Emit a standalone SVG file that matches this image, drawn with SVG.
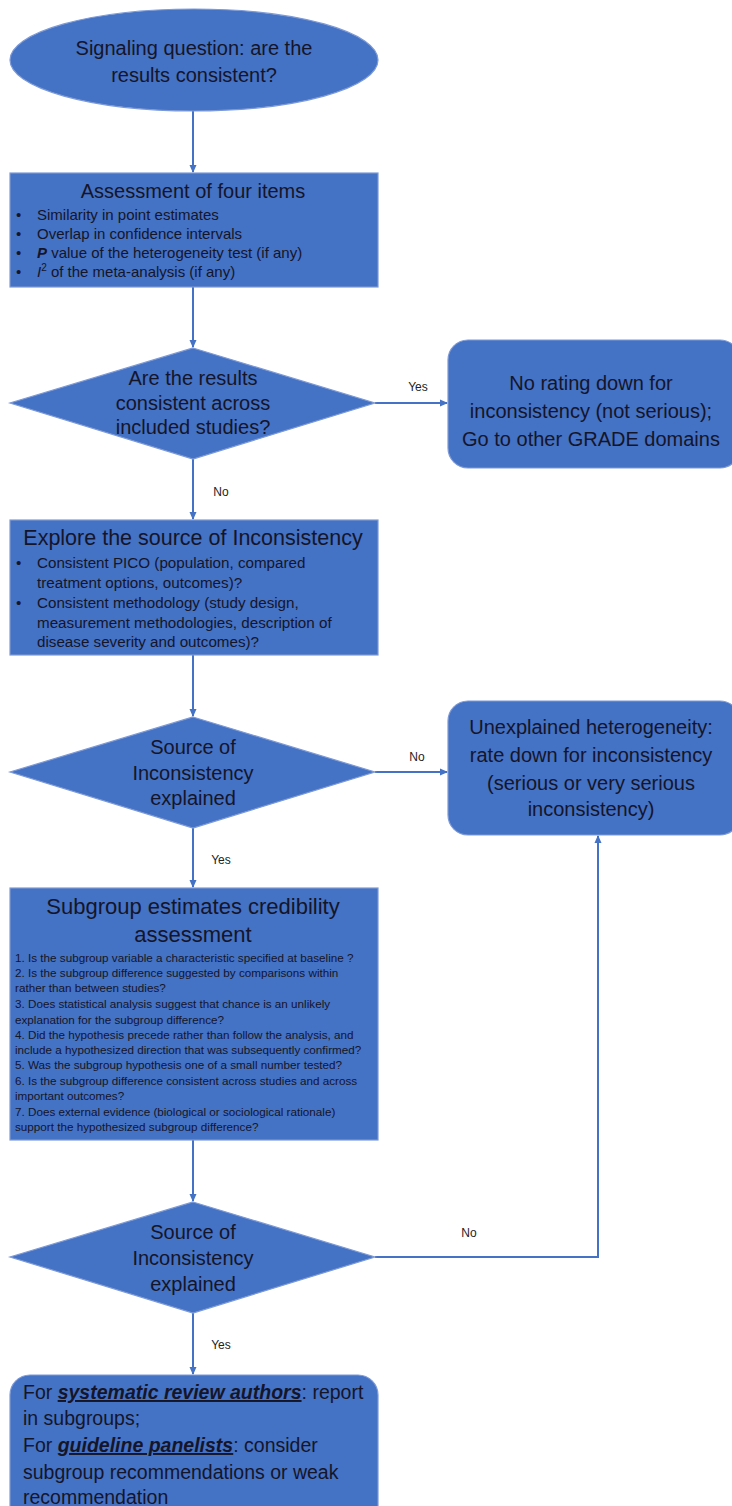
<svg xmlns="http://www.w3.org/2000/svg" width="732" height="1506" viewBox="0 0 732 1506">
<style>
.shape{fill:#4472C4;stroke:#7d9ad6;stroke-width:1.2}
.t{font-family:"Liberation Sans",Arial,sans-serif;fill:#15152a}
.c{text-anchor:middle}
.big{font-size:20px}
.fin{font-size:19.5px}
.b1{font-size:15px}
.b2{font-size:15.2px}
.sm{font-size:11.7px}
.lbl{font-family:"Liberation Sans",Arial,sans-serif;font-size:12px;fill:#222;text-anchor:middle}
.con{stroke:#4472C4;stroke-width:2;fill:none}
.bi{font-weight:bold;font-style:italic;text-decoration:underline}
</style>
<defs>
<marker id="arr" markerWidth="8" markerHeight="8" refX="7" refY="4" orient="auto" markerUnits="userSpaceOnUse">
<path d="M0,0.5 L8,4 L0,7.5 z" fill="#4472C4"/>
</marker>
</defs>
<rect width="732" height="1506" fill="#ffffff"/>

<g id="connectors">
<line class="con" x1="193" y1="111" x2="193" y2="172" marker-end="url(#arr)"/>
<line class="con" x1="193" y1="287" x2="193" y2="347" marker-end="url(#arr)"/>
<line class="con" x1="375" y1="403" x2="447" y2="403" marker-end="url(#arr)"/>
<line class="con" x1="193" y1="459" x2="193" y2="519" marker-end="url(#arr)"/>
<line class="con" x1="193" y1="655" x2="193" y2="716" marker-end="url(#arr)"/>
<line class="con" x1="375" y1="772" x2="447" y2="772" marker-end="url(#arr)"/>
<line class="con" x1="193" y1="828" x2="193" y2="887" marker-end="url(#arr)"/>
<line class="con" x1="193" y1="1140" x2="193" y2="1201" marker-end="url(#arr)"/>
<polyline class="con" points="375,1257 598,1257 598,836" marker-end="url(#arr)"/>
<line class="con" x1="193" y1="1313" x2="193" y2="1374" marker-end="url(#arr)"/>
<text class="lbl" x="418" y="391">Yes</text>
<text class="lbl" x="221" y="496">No</text>
<text class="lbl" x="417" y="761">No</text>
<text class="lbl" x="221" y="864">Yes</text>
<text class="lbl" x="469" y="1237">No</text>
<text class="lbl" x="221" y="1349">Yes</text>
</g>

<g id="start">
<ellipse class="shape" cx="194" cy="60" rx="184" ry="51"/>
<text class="t c big" x="194" y="55">Signaling question: are the</text>
<text class="t c big" x="194" y="82">results consistent?</text>
</g>

<g id="assessment">
<rect class="shape" x="10" y="173" width="368" height="114"/>
<text class="t c" font-size="20" x="193" y="198">Assessment of four items</text>
<g class="t b1">
<text x="16" y="220">•</text><text x="37" y="220">Similarity in point estimates</text>
<text x="16" y="239">•</text><text x="37" y="239">Overlap in confidence intervals</text>
<text x="16" y="258">•</text><text x="37" y="258"><tspan font-weight="bold" font-style="italic">P</tspan> value of the heterogeneity test (if any)</text>
<text x="16" y="277">•</text><text x="37" y="277"><tspan font-style="italic">I</tspan><tspan font-size="10" dy="-6">2</tspan><tspan dy="6"> of the meta-analysis (if any)</tspan></text>
</g>
</g>

<g id="decision1">
<polygon class="shape" points="193,348 375,403 193,459 10,403"/>
<text class="t c big" x="193" y="385">Are the results</text>
<text class="t c big" x="193" y="410">consistent across</text>
<text class="t c big" x="193" y="434">included studies?</text>
</g>

<g id="no-rating">
<rect class="shape" x="448" y="340" width="292" height="128" rx="20"/>
<text class="t c big" x="591" y="390">No rating down for</text>
<text class="t c big" x="591" y="418">inconsistency (not serious);</text>
<text class="t c big" x="591" y="446">Go to other GRADE domains</text>
</g>

<g id="explore">
<rect class="shape" x="10" y="520" width="368" height="135"/>
<text class="t c" font-size="21.5" x="193" y="545">Explore the source of Inconsistency</text>
<g class="t b2">
<text x="16" y="568">•</text><text x="37" y="568">Consistent PICO (population,  compared</text>
<text x="37" y="588">treatment options, outcomes)?</text>
<text x="16" y="608">•</text><text x="37" y="608">Consistent methodology (study design,</text>
<text x="37" y="628">measurement methodologies, description of</text>
<text x="37" y="647">disease severity and outcomes)?</text>
</g>
</g>

<g id="decision2">
<polygon class="shape" points="193,717 375,772 193,828 10,772"/>
<text class="t c big" x="193" y="754">Source of</text>
<text class="t c big" x="193" y="780">Inconsistency</text>
<text class="t c big" x="193" y="805">explained</text>
</g>

<g id="unexplained">
<rect class="shape" x="448" y="701" width="292" height="134" rx="20"/>
<text class="t c big" x="591" y="734">Unexplained heterogeneity:</text>
<text class="t c big" x="591" y="762">rate down for inconsistency</text>
<text class="t c big" x="591" y="790">(serious or very serious</text>
<text class="t c big" x="591" y="816">inconsistency)</text>
</g>

<g id="subgroup">
<rect class="shape" x="10" y="888" width="368" height="252"/>
<text class="t c" font-size="22" x="193" y="914">Subgroup estimates credibility</text>
<text class="t c" font-size="22" x="193" y="942">assessment</text>
<g class="t sm">
<text x="15" y="962">1. Is the subgroup variable a characteristic specified at baseline ?</text>
<text x="15" y="977">2. Is the subgroup difference suggested by comparisons within</text>
<text x="15" y="992">rather than between studies?</text>
<text x="15" y="1008">3. Does statistical analysis suggest that chance is an unlikely</text>
<text x="15" y="1024">explanation for the subgroup difference?</text>
<text x="15" y="1039">4. Did the hypothesis precede rather than follow the analysis, and</text>
<text x="15" y="1054">include a hypothesized direction that was subsequently confirmed?</text>
<text x="15" y="1069">5. Was the subgroup hypothesis one of a small number tested?</text>
<text x="15" y="1085">6. Is the subgroup difference consistent across studies and across</text>
<text x="15" y="1100">important outcomes?</text>
<text x="15" y="1116">7. Does external evidence (biological or sociological rationale)</text>
<text x="15" y="1131">support the hypothesized subgroup difference?</text>
</g>
</g>

<g id="decision3">
<polygon class="shape" points="193,1202 375,1257 193,1313 10,1257"/>
<text class="t c big" x="193" y="1239">Source of</text>
<text class="t c big" x="193" y="1265">Inconsistency</text>
<text class="t c big" x="193" y="1291">explained</text>
</g>

<g id="final">
<rect class="shape" x="10" y="1375" width="368" height="160" rx="20"/>
<g class="t fin">
<text x="23" y="1399">For <tspan class="bi">systematic review authors</tspan>: report</text>
<text x="23" y="1425">in subgroups;</text>
<text x="23" y="1452">For <tspan class="bi">guideline panelists</tspan>: consider</text>
<text x="23" y="1479">subgroup recommendations or weak</text>
<text x="23" y="1504">recommendation</text>
</g>
</g>
</svg>
